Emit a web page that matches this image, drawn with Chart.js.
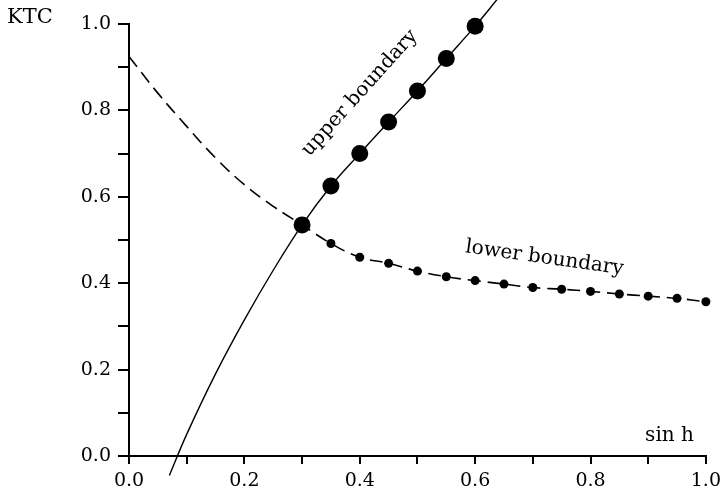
<!DOCTYPE html>
<html>
<head>
<meta charset="utf-8">
<script src="https://cdn.jsdelivr.net/npm/chart.js@4/dist/chart.umd.min.js"></script>
<style>
  html, body { margin: 0; padding: 0; background: #fff; }
  canvas { display: block; }
</style>
</head>
<body>
<canvas id="ktcChart" width="727" height="494"></canvas>
<script>
// Upper boundary: smooth curve and the measured points on it
const upperCurveX = [0.07, 0.1, 0.15, 0.2, 0.25, 0.3, 0.35, 0.4, 0.45, 0.5, 0.55, 0.6, 0.64];
const upperCurveY = [-0.045, 0.05, 0.19, 0.315, 0.43, 0.535, 0.625, 0.70, 0.773, 0.845, 0.92, 0.995, 1.06];
const upperDotsX = [0.3, 0.35, 0.4, 0.45, 0.5, 0.55, 0.6];
const upperDotsY = [0.535, 0.625, 0.70, 0.773, 0.845, 0.92, 0.995];

// Lower boundary: dashed curve from sin h = 0, then the small points
const lowerLeadX = [0.0, 0.05, 0.1, 0.15, 0.2, 0.25, 0.3];
const lowerLeadY = [0.925, 0.84, 0.763, 0.69, 0.628, 0.578, 0.535];
const lowerDotsX = [0.35, 0.4, 0.45, 0.5, 0.55, 0.6, 0.65, 0.7, 0.75, 0.8, 0.85, 0.9, 0.95, 1.0];
const lowerDotsY = [0.492, 0.46, 0.446, 0.428, 0.415, 0.406, 0.398, 0.39, 0.386, 0.381, 0.375, 0.37, 0.365, 0.357];

// Axis ranges and labelled tick values
const axisMin = 0;
const axisMax = 1;
const tickStep = 0.1;
const labelledTicks = ['0.0', '0.2', '0.4', '0.6', '0.8', '1.0'];

const FONT = "'DejaVu Serif', 'Liberation Serif', serif";

function toPoints(xs, ys) {
    return xs.map((x, i) => ({ x: x, y: ys[i] }));
}

function tickLabel(value) {
    const s = value.toFixed(1);
    return labelledTicks.includes(s) ? s : '';
}

// Free-standing text: curve names and axis titles
const textLabels = {
    id: 'textLabels',
    afterDatasetsDraw(chart) {
        const { ctx, scales: { x, y } } = chart;
        ctx.save();
        ctx.fillStyle = '#000';
        ctx.textAlign = 'center';
        ctx.textBaseline = 'middle';
        ctx.font = '20px ' + FONT;

        ctx.save();
        ctx.translate(x.getPixelForValue(0.40), y.getPixelForValue(0.84));
        ctx.rotate(-48 * Math.PI / 180);
        ctx.fillText('upper boundary', 0, 0);
        ctx.restore();

        ctx.save();
        ctx.translate(x.getPixelForValue(0.72), y.getPixelForValue(0.458));
        ctx.rotate(8 * Math.PI / 180);
        ctx.fillText('lower boundary', 0, 0);
        ctx.restore();

        ctx.textAlign = 'right';
        ctx.fillText('sin h', x.right - 12, y.bottom - 20);

        ctx.textAlign = 'left';
        ctx.font = '21px ' + FONT;
        ctx.fillText('KTC', 7, 18);
        ctx.restore();
    }
};

const axisStyle = {
    grid: { drawOnChartArea: false, color: '#000', lineWidth: 2 },
    border: { color: '#000', width: 2 }
};

new Chart(document.getElementById('ktcChart'), {
    type: 'scatter',
    data: {
        datasets: [
            {
                data: toPoints(upperDotsX, upperDotsY),
                showLine: false,
                pointRadius: 8.5,
                pointBackgroundColor: '#000',
                pointBorderWidth: 0,
                clip: false
            },
            {
                data: toPoints(lowerDotsX, lowerDotsY),
                showLine: false,
                pointRadius: 4.5,
                pointBackgroundColor: '#000',
                pointBorderWidth: 0,
                clip: false
            },
            {
                data: toPoints(upperCurveX, upperCurveY),
                showLine: true,
                borderColor: '#000',
                borderWidth: 1.4,
                pointRadius: 0,
                tension: 0.4,
                clip: false
            },
            {
                data: toPoints(lowerLeadX.concat(lowerDotsX), lowerLeadY.concat(lowerDotsY)),
                showLine: true,
                borderColor: '#000',
                borderWidth: 1.6,
                borderDash: [13, 7],
                pointRadius: 0,
                tension: 0.4,
                clip: false
            }
        ]
    },
    options: {
        responsive: false,
        animation: false,
        layout: { padding: { top: 24, right: 21, left: 0, bottom: 0 } },
        plugins: {
            legend: { display: false },
            tooltip: { enabled: false }
        },
        scales: {
            x: {
                type: 'linear',
                min: axisMin,
                max: axisMax,
                ...axisStyle,
                grid: { ...axisStyle.grid, tickLength: 8 },
                afterFit: scale => { scale.height = 38; },
                ticks: {
                    stepSize: tickStep,
                    autoSkip: false,
                    maxRotation: 0,
                    padding: 6,
                    color: '#000',
                    font: { family: FONT, size: 19 },
                    callback: tickLabel
                }
            },
            y: {
                type: 'linear',
                min: axisMin,
                max: axisMax,
                ...axisStyle,
                grid: { ...axisStyle.grid, tickLength: 11 },
                afterFit: scale => { scale.width = 129; },
                ticks: {
                    stepSize: tickStep,
                    autoSkip: false,
                    padding: 7,
                    color: '#000',
                    font: { family: FONT, size: 19 },
                    callback: tickLabel
                }
            }
        }
    },
    plugins: [textLabels]
});
</script>
</body>
</html>
